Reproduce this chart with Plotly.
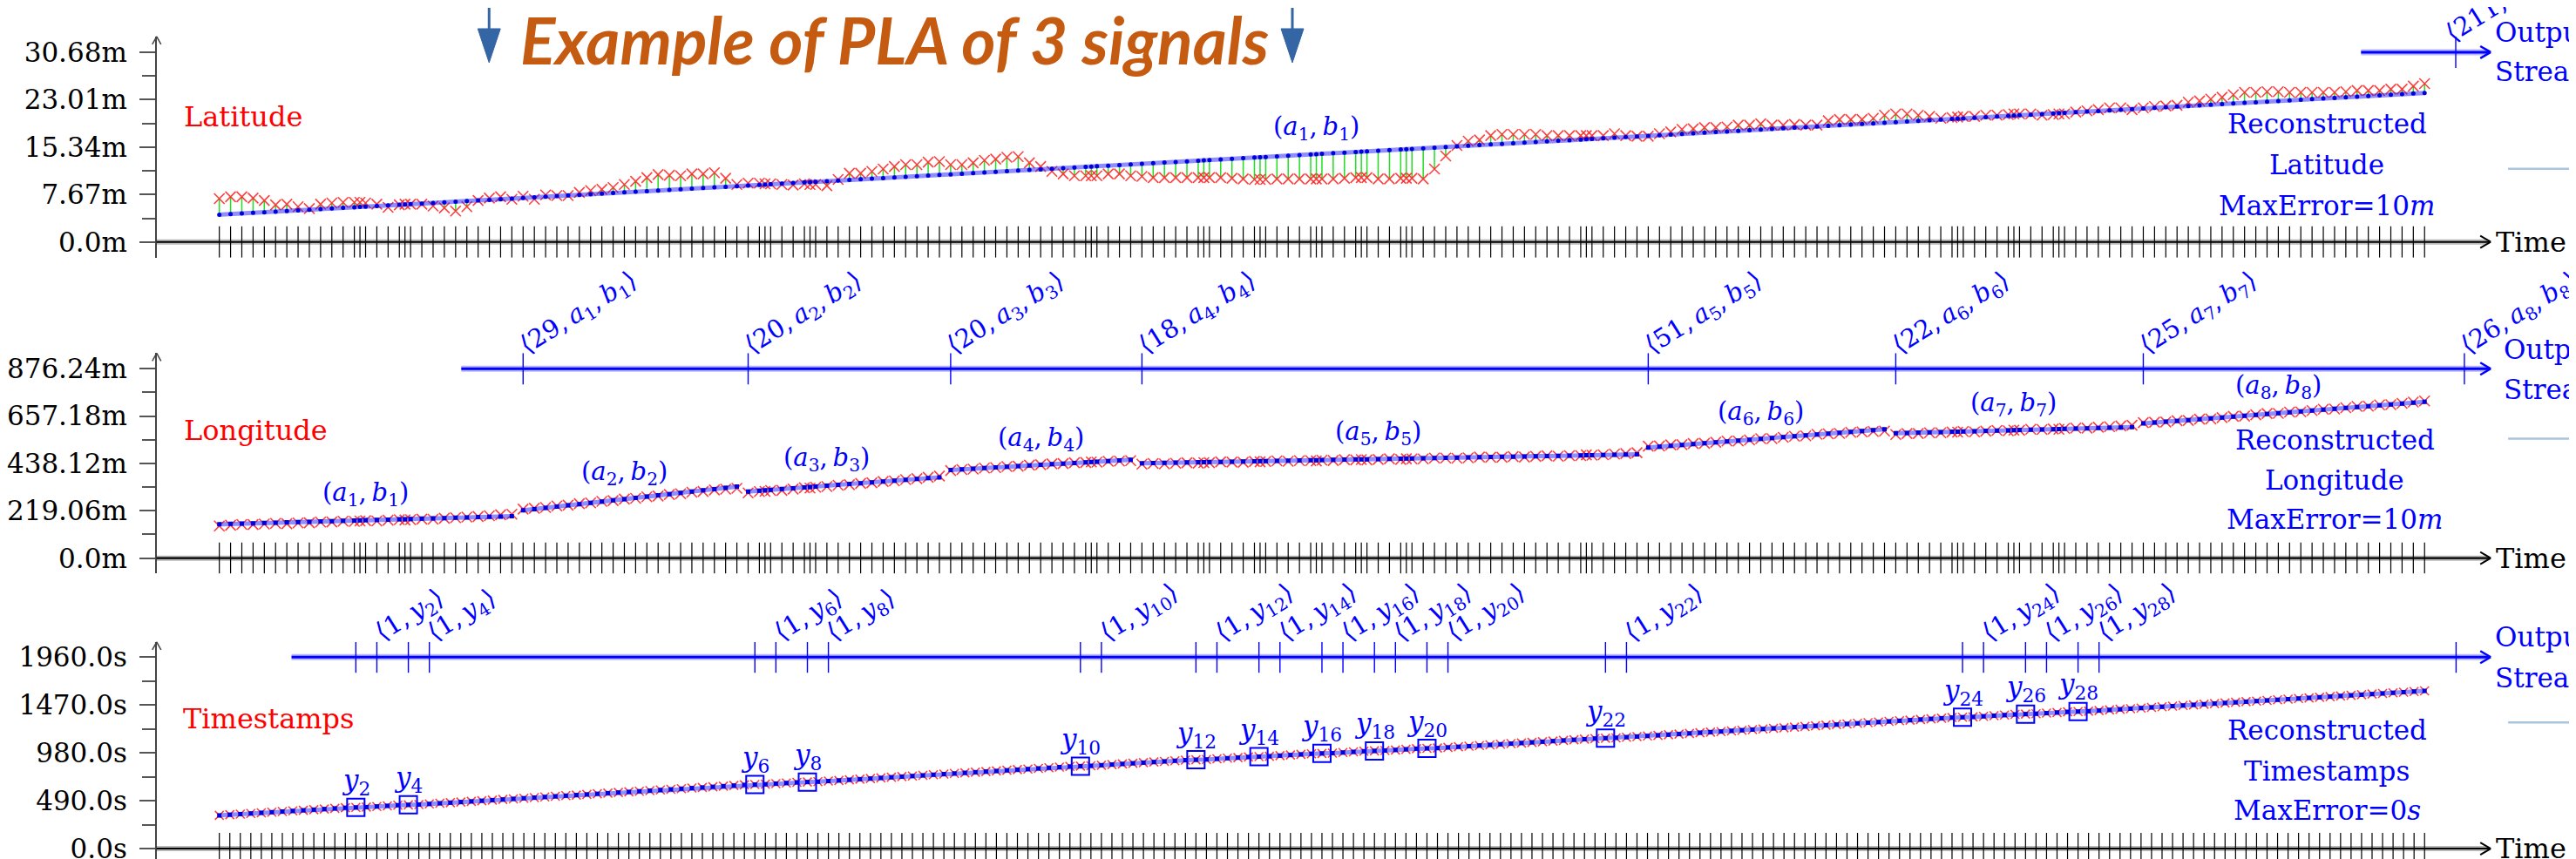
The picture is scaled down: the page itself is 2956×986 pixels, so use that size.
import plotly.graph_objects as go

W, H = 2956, 986
SERIF = "DejaVu Serif"
THIN = "\u2009"

# ------------------------------------------------------------------ data
timestamps = [
    340, 346.5, 353, 359.5, 366, 372.5, 379, 385.5, 392, 398.5,
    405, 411.5, 418, 421.25, 424.5, 431, 437.5, 444, 447.25, 450.5,
    457, 463.5, 470, 476.5, 483, 489.5, 496, 502.5, 509, 515.5,
    522, 528.5, 535, 541.5, 548, 554.5, 561, 567.5, 574, 580.5,
    587, 593.5, 600, 606.5, 613, 619.5, 626, 632.5, 639, 645.5,
    652, 655.25, 658.5, 665, 671.5, 678, 681.25, 684.5, 691, 697.5,
    704, 710.5, 717, 723.5, 730, 736.5, 743, 749.5, 756, 762.5,
    769, 775.5, 782, 788.5, 795, 801.5, 808, 814.5, 821, 827.5,
    834, 840.5, 843.75, 847, 853.5, 860, 866.5, 873, 879.5, 886,
    892.5, 899, 905.5, 908.75, 912, 918.5, 925, 931.5, 938, 941.25,
    944.5, 951, 957.5, 964, 970.5, 973.75, 977, 983.5, 990, 996.5,
    999.75, 1003, 1009.5, 1016, 1022.5, 1025.75, 1029, 1035.5, 1042, 1048.5,
    1055, 1061.5, 1068, 1074.5, 1081, 1087.5, 1094, 1100.5, 1107, 1113.5,
    1120, 1126.5, 1129.75, 1133, 1139.5, 1146, 1152.5, 1159, 1165.5, 1172,
    1178.5, 1185, 1191.5, 1198, 1204.5, 1211, 1217.5, 1224, 1230.5, 1237,
    1243.5, 1250, 1256.5, 1263, 1269.5, 1276, 1282.5, 1289, 1295.5, 1302,
    1308.5, 1315, 1321.5, 1328, 1334.5, 1341, 1344.25, 1347.5, 1354, 1360.5,
    1367, 1373.5, 1376.75, 1380, 1386.5, 1393, 1399.5, 1402.75, 1406, 1412.5,
    1419, 1425.5, 1432, 1438.5, 1445, 1451.5, 1458, 1464.5, 1471, 1477.5,
    1484, 1490.5, 1497, 1503.5, 1510, 1516.5, 1523, 1529.5, 1536, 1542.5,
    1549, 1555.5, 1562, 1568.5, 1575, 1581.5, 1588, 1594.5, 1601, 1607.5,
    1614,
]

lat_raw = [
    7.0, 7.3, 7.3, 7.1, 6.7, 6.0, 6.1, 5.7, 5.4, 6.1,
    6.3, 6.4, 6.4, 6.4, 6.3, 6.1, 5.6, 6.0, 6.1, 6.1,
    6.1, 5.8, 5.5, 5.0, 5.7, 6.7, 7.1, 7.3, 6.9, 7.4,
    6.9, 7.6, 7.5, 7.5, 8.0, 8.3, 8.5, 8.8, 9.3, 9.8,
    10.4, 10.9, 10.8, 10.7, 11.0, 11.0, 11.2, 10.3, 9.3, 9.5,
    9.5, 9.4, 9.4, 9.3, 9.2, 9.4, 9.3, 9.3, 9.1, 10.1,
    11.1, 11.1, 11.4, 11.8, 12.2, 12.5, 12.5, 12.9, 13.0, 12.5,
    12.5, 12.8, 13.2, 13.4, 13.7, 13.8, 12.8, 12.2, 11.4, 11.0,
    10.7, 10.7, 10.7, 10.7, 11.0, 11.0, 10.7, 10.6, 10.4, 10.4,
    10.4, 10.4, 10.4, 10.4, 10.4, 10.4, 10.3, 10.2, 10.1, 10.1,
    10.1, 10.2, 10.2, 10.2, 10.2, 10.2, 10.2, 10.2, 10.3, 10.4,
    10.4, 10.4, 10.2, 10.2, 10.3, 10.3, 10.3, 10.2, 11.8, 13.9,
    15.6, 16.3, 16.5, 17.2, 17.4, 17.4, 17.4, 17.4, 17.2, 17.2,
    17.2, 17.2, 17.2, 17.2, 17.2, 17.5, 17.2, 17.1, 17.1, 17.5,
    17.8, 18.2, 18.3, 18.5, 18.5, 18.6, 18.9, 18.9, 19.1, 18.9,
    18.9, 19.0, 18.9, 18.9, 19.6, 19.8, 19.8, 19.8, 20.0, 20.5,
    20.7, 20.7, 20.5, 20.3, 20.0, 20.1, 20.2, 20.3, 20.3, 20.5,
    20.5, 20.6, 20.7, 20.7, 20.7, 20.5, 20.6, 20.7, 20.7, 21.0,
    21.2, 21.4, 21.7, 21.7, 21.4, 21.7, 21.9, 22.0, 22.1, 22.6,
    22.8, 23.1, 23.4, 23.8, 24.2, 24.2, 24.3, 24.3, 24.2, 24.2,
    24.2, 24.2, 24.2, 24.3, 24.5, 24.5, 24.5, 24.7, 24.7, 25.2,
    25.6,
]

lat_rec = [
    4.40, 4.50, 4.60, 4.70, 4.80, 4.90, 5.00, 5.10, 5.20, 5.30,
    5.41, 5.51, 5.61, 5.66, 5.71, 5.81, 5.91, 6.01, 6.06, 6.11,
    6.21, 6.31, 6.41, 6.51, 6.61, 6.71, 6.81, 6.91, 7.01, 7.11,
    7.21, 7.31, 7.42, 7.52, 7.62, 7.72, 7.82, 7.92, 8.02, 8.12,
    8.22, 8.32, 8.42, 8.52, 8.62, 8.72, 8.82, 8.92, 9.02, 9.12,
    9.22, 9.27, 9.32, 9.43, 9.53, 9.63, 9.68, 9.73, 9.83, 9.93,
    10.03, 10.13, 10.23, 10.33, 10.43, 10.53, 10.63, 10.73, 10.83, 10.93,
    11.03, 11.13, 11.23, 11.33, 11.44, 11.54, 11.64, 11.74, 11.84, 11.94,
    12.04, 12.14, 12.19, 12.24, 12.34, 12.44, 12.54, 12.64, 12.74, 12.84,
    12.94, 13.04, 13.14, 13.19, 13.24, 13.34, 13.45, 13.55, 13.65, 13.70,
    13.75, 13.85, 13.95, 14.05, 14.15, 14.20, 14.25, 14.35, 14.45, 14.55,
    14.60, 14.65, 14.75, 14.85, 14.95, 15.00, 15.05, 15.15, 15.25, 15.35,
    15.46, 15.56, 15.66, 15.76, 15.86, 15.96, 16.06, 16.16, 16.26, 16.36,
    16.46, 16.56, 16.61, 16.66, 16.76, 16.86, 16.96, 17.06, 17.16, 17.26,
    17.36, 17.47, 17.57, 17.67, 17.77, 17.87, 17.97, 18.07, 18.17, 18.27,
    18.37, 18.47, 18.57, 18.67, 18.77, 18.87, 18.97, 19.07, 19.17, 19.27,
    19.37, 19.48, 19.58, 19.68, 19.78, 19.88, 19.93, 19.98, 20.08, 20.18,
    20.28, 20.38, 20.43, 20.48, 20.58, 20.68, 20.78, 20.83, 20.88, 20.98,
    21.08, 21.18, 21.28, 21.38, 21.49, 21.59, 21.69, 21.79, 21.89, 21.99,
    22.09, 22.19, 22.29, 22.39, 22.49, 22.59, 22.69, 22.79, 22.89, 22.99,
    23.09, 23.19, 23.29, 23.39, 23.50, 23.60, 23.70, 23.80, 23.90, 24.00,
    24.10,
]

lon_raw = [
    149.0, 152.4, 155.8, 155.3, 157.7, 161.1, 159.5, 163.0, 163.4, 166.8,
    167.2, 170.7, 170.1, 171.8, 173.5, 171.9, 175.3, 177.8, 176.5, 178.2,
    180.6, 180.0, 184.5, 186.9, 190.3, 192.7, 196.2, 200.6, 203.0, 227.0,
    230.8, 234.6, 241.4, 245.2, 251.9, 255.7, 262.5, 266.3, 273.1, 276.9,
    283.7, 287.5, 294.3, 298.1, 304.9, 308.6, 315.4, 319.2, 323.0, 302.0,
    307.9, 308.8, 312.8, 313.6, 319.5, 325.4, 324.3, 328.3, 331.2, 337.0,
    339.9, 345.8, 348.7, 354.6, 357.4, 363.3, 368.2, 374.1, 380.0, 405.0,
    409.9, 411.9, 416.8, 418.8, 423.7, 425.6, 430.6, 432.5, 436.5, 437.4,
    441.3, 442.3, 444.8, 444.2, 448.2, 449.1, 451.0, 435.0, 437.9, 435.9,
    438.8, 441.7, 439.7, 442.1, 441.6, 445.5, 444.4, 443.4, 447.3, 445.8,
    447.2, 450.2, 448.1, 451.0, 451.0, 449.4, 452.9, 451.8, 455.7, 454.7,
    456.1, 454.6, 456.5, 459.5, 456.4, 459.8, 459.3, 459.2, 463.2, 463.1,
    462.0, 464.0, 467.9, 466.8, 466.8, 469.7, 467.6, 470.6, 473.5, 471.4,
    474.4, 474.3, 477.8, 476.2, 478.2, 481.1, 484.0, 488.0, 518.0, 519.0,
    524.0, 525.0, 530.0, 531.0, 536.0, 542.0, 542.0, 547.0, 553.0, 553.0,
    559.0, 564.0, 566.0, 573.0, 575.0, 577.0, 582.0, 584.0, 586.0, 588.0,
    572.0, 576.3, 576.7, 580.0, 580.3, 583.7, 583.3, 586.0, 584.3, 587.7,
    591.0, 589.3, 592.0, 591.7, 596.0, 595.3, 597.7, 596.3, 600.0, 602.3,
    601.7, 606.0, 608.3, 611.7, 615.0, 627.0, 629.0, 630.0, 636.0, 637.0,
    643.0, 644.0, 650.0, 656.0, 657.0, 663.0, 669.0, 670.0, 676.0, 677.0,
    683.0, 689.0, 690.0, 696.0, 702.0, 703.0, 709.0, 710.0, 716.0, 722.0,
    727.0,
]

lon_rec = [
    157.0, 158.4, 159.8, 161.3, 162.7, 164.1, 165.5, 167.0, 168.4, 169.8,
    171.2, 172.7, 174.1, 174.8, 175.5, 176.9, 178.3, 179.8, 180.5, 181.2,
    182.6, 184.0, 185.5, 186.9, 188.3, 189.7, 191.2, 192.6, 194.0, 221.0,
    226.8, 232.6, 238.4, 244.2, 249.9, 255.7, 261.5, 267.3, 273.1, 278.9,
    284.7, 290.5, 296.3, 302.1, 307.9, 313.6, 319.4, 325.2, 331.0, 308.0,
    311.9, 313.8, 315.8, 319.6, 323.5, 327.4, 329.3, 331.3, 335.2, 339.0,
    342.9, 346.8, 350.7, 354.6, 358.4, 362.3, 366.2, 370.1, 374.0, 408.0,
    410.9, 413.9, 416.8, 419.8, 422.7, 425.6, 428.6, 431.5, 434.5, 437.4,
    440.3, 443.3, 444.8, 446.2, 449.2, 452.1, 455.0, 439.0, 439.9, 440.9,
    441.8, 442.7, 443.7, 444.1, 444.6, 445.5, 446.4, 447.4, 448.3, 448.8,
    449.2, 450.2, 451.1, 452.0, 453.0, 453.4, 453.9, 454.8, 455.7, 456.7,
    457.1, 457.6, 458.5, 459.5, 460.4, 460.8, 461.3, 462.2, 463.2, 464.1,
    465.0, 466.0, 466.9, 467.8, 468.8, 469.7, 470.6, 471.6, 472.5, 473.4,
    474.4, 475.3, 475.8, 476.2, 477.2, 478.1, 479.0, 480.0, 512.0, 516.0,
    520.0, 524.0, 528.0, 532.0, 536.0, 540.0, 544.0, 548.0, 552.0, 556.0,
    560.0, 564.0, 568.0, 572.0, 576.0, 580.0, 584.0, 588.0, 592.0, 596.0,
    578.0, 579.3, 580.7, 582.0, 583.3, 584.7, 585.3, 586.0, 587.3, 588.7,
    590.0, 591.3, 592.0, 592.7, 594.0, 595.3, 596.7, 597.3, 598.0, 599.3,
    600.7, 602.0, 603.3, 604.7, 606.0, 623.0, 627.0, 631.0, 635.0, 639.0,
    643.0, 647.0, 651.0, 655.0, 659.0, 663.0, 667.0, 671.0, 675.0, 679.0,
    683.0, 687.0, 691.0, 695.0, 699.0, 703.0, 707.0, 711.0, 715.0, 719.0,
    723.0,
]

lat_seg_counts = [211]
lon_seg_counts = [29, 20, 20, 18, 51, 22, 25, 26]
irregular_idx = [13, 18, 51, 56, 82, 93, 99, 105, 110, 115, 132, 166, 172, 177]
irregular_lbl = [2, 4, 6, 8, 10, 12, 14, 16, 18, 20, 22, 24, 26, 28]

lat_tickvals = [0.0, 7.67, 15.34, 23.01, 30.68]
lat_ticktext = ["0.0m", "7.67m", "15.34m", "23.01m", "30.68m"]
lon_tickvals = [0.0, 219.06, 438.12, 657.18, 876.24]
lon_ticktext = ["0.0m", "219.06m", "438.12m", "657.18m", "876.24m"]
ts_tickvals = [0.0, 490.0, 980.0, 1470.0, 1960.0]
ts_ticktext = ["0.0s", "490.0s", "980.0s", "1470.0s", "1960.0s"]

stream_end_lat = 1632.0
stream_end_lon = 1637.0
stream_end_ts = 213.0

# ------------------------------------------------------------------ layout geometry (pixels)
AX_L, AX_R = 168, 2848
DAT_L, DAT_R = 240, 2774
PANELS = [
    dict(zero=269.0, top=51.0, dom=(33.0, 287.0)),
    dict(zero=632.3, top=414.7, dom=(396.7, 650.0)),
    dict(zero=966.0, top=746.0, dom=(728.7, 984.0)),
]
STREAM_START = [2701, 518, 323]
TICK_HALF = 18
ROT = -32


def px(x):
    return x / W


def py(y):
    return 1 - y / H


shapes, annotations = [], []


def line_px(x0, y0, x1, y1, color, width, layer="above"):
    shapes.append(dict(type="line", xref="paper", yref="paper",
                       x0=px(x0), y0=py(y0), x1=px(x1), y1=py(y1),
                       line=dict(color=color, width=width), layer=layer))


def chevron_right(xt, yt, color, width, size=12, spread=7):
    line_px(xt - size, yt - spread, xt, yt, color, width)
    line_px(xt - size, yt + spread, xt, yt, color, width)


def text_px(x, y, text, size, color, xanchor="center", **kw):
    annotations.append(dict(xref="paper", yref="paper", x=px(x), y=py(y), text=text,
                            showarrow=False, xanchor=xanchor, yanchor="middle",
                            font=dict(family=SERIF, size=size, color=color), **kw))


def vlines(xs, y0s, y1s):
    X, Y = [], []
    for x, a, b in zip(xs, y0s, y1s):
        X += [x, x, None]
        Y += [a, b, None]
    return X, Y


def seg_split(xs, ys, counts):
    X, Y, s = [], [], 0
    for n in counts:
        X += list(xs[s:s + n]) + [None]
        Y += list(ys[s:s + n]) + [None]
        s += n
    return X, Y


def xrange_for(v0, v1):
    s = (v1 - v0) / (DAT_R - DAT_L)
    return [v0 - (DAT_L - AX_L) * s, v1 + (AX_R - DAT_R) * s]


n_pts = len(timestamps)
index = list(range(n_pts))

specs = [
    dict(xs=timestamps, raw=lat_raw, rec=lat_rec, counts=lat_seg_counts,
         tv=lat_tickvals, tt=lat_ticktext, err=True,
         xr=xrange_for(timestamps[0], timestamps[-1])),
    dict(xs=timestamps, raw=lon_raw, rec=lon_rec, counts=lon_seg_counts,
         tv=lon_tickvals, tt=lon_ticktext, err=True,
         xr=xrange_for(timestamps[0], timestamps[-1])),
    dict(xs=index, raw=timestamps, rec=timestamps, counts=[n_pts],
         tv=ts_tickvals, tt=ts_ticktext, err=False,
         xr=xrange_for(0, n_pts - 1)),
]

ROT_FONT = dict(family=SERIF, size=29, color="blue")
LBL_FONT = dict(family=SERIF, size=29, color="blue")


def ab(j):
    return f"<i>a</i><sub>{j}</sub>,{THIN}<i>b</i><sub>{j}</sub>"


fig = go.Figure()
layout_axes = {}

for p, (sp, geo) in enumerate(zip(specs, PANELS)):
    xa = "x" if p == 0 else f"x{p + 1}"
    ya = "y" if p == 0 else f"y{p + 1}"
    top_val = sp["tv"][-1]
    k = (geo["zero"] - geo["top"]) / top_val
    yr = [(geo["zero"] - geo["dom"][1]) / k, (geo["zero"] - geo["dom"][0]) / k]
    minor_vals = [(a + b) / 2 for a, b in zip(sp["tv"][:-1], sp["tv"][1:])]
    layout_axes["xaxis" + ("" if p == 0 else str(p + 1))] = dict(
        domain=[px(AX_L), px(AX_R)], range=sp["xr"], visible=False, anchor=ya)
    layout_axes["yaxis" + ("" if p == 0 else str(p + 1))] = dict(
        domain=[py(geo["dom"][1]), py(geo["dom"][0])], range=yr, anchor=xa,
        showline=True, linecolor="#444", linewidth=1.5, showgrid=False, zeroline=False,
        ticks="outside", ticklen=18, tickwidth=1.5, tickcolor="#555",
        tickmode="array", tickvals=sp["tv"], ticktext=sp["tt"], ticklabelstandoff=8,
        tickfont=dict(family=SERIF, size=31, color="black"),
        minor=dict(tickmode="array", tickvals=minor_vals, ticks="outside",
                   ticklen=15, tickwidth=1.5, tickcolor="#555"))

    h = TICK_HALF / k
    xs = sp["xs"]
    X, Y = vlines(xs, [-h] * n_pts, [h] * n_pts)
    fig.add_trace(go.Scatter(x=X, y=Y, mode="lines", line=dict(color="black", width=1.2),
                             xaxis=xa, yaxis=ya, hoverinfo="skip", showlegend=False))
    if sp["err"]:
        X, Y = vlines(xs, sp["raw"], sp["rec"])
        fig.add_trace(go.Scatter(x=X, y=Y, mode="lines", line=dict(color="#22dd22", width=1.5),
                                 xaxis=xa, yaxis=ya, hoverinfo="skip", showlegend=False))
    fig.add_trace(go.Scatter(x=xs, y=sp["raw"], mode="markers",
                             marker=dict(symbol="x-thin-open", size=12 if p < 2 else 10,
                                         color="rgba(255,30,30,0.85)",
                                         line=dict(width=1.6, color="rgba(255,30,30,0.85)")),
                             xaxis=xa, yaxis=ya, hoverinfo="skip", showlegend=False))
    X, Y = seg_split(xs, sp["rec"], sp["counts"])
    fig.add_trace(go.Scatter(x=X, y=Y, mode="lines", connectgaps=False,
                             line=dict(color="rgba(30,30,255,0.5)", width=5),
                             xaxis=xa, yaxis=ya, hoverinfo="skip", showlegend=False))
    fig.add_trace(go.Scatter(x=xs, y=sp["rec"], mode="markers",
                             marker=dict(symbol="circle" if p == 0 else "square", size=5,
                                         color="rgb(0,0,220)"),
                             xaxis=xa, yaxis=ya, hoverinfo="skip", showlegend=False))

    z = geo["zero"]
    line_px(AX_L, z, AX_R - 2, z, "rgba(0,0,0,0.28)", 6)
    line_px(AX_L, z, AX_R, z, "black", 2.2)
    chevron_right(AX_R + 2, z, "black", 2)
    text_px(2854, z, "Time", 32, "black", xanchor="left")
    t0 = geo["dom"][0]
    line_px(AX_L - 5, t0 + 9, AX_L, t0, "#444", 1.5)
    line_px(AX_L + 5, t0 + 9, AX_L, t0, "#444", 1.5)

    tp = geo["top"]
    line_px(STREAM_START[p], tp, AX_R - 2, tp, "rgba(0,0,255,0.28)", 7)
    line_px(STREAM_START[p], tp, AX_R, tp, "blue", 3)
    chevron_right(AX_R + 2, tp, "blue", 2.5)
    hs = TICK_HALF / k

    if p < 2:
        ends, cum = [], 0
        for n in sp["counts"]:
            cum += n
            ends.append(timestamps[cum] if cum < n_pts else (stream_end_lat if p == 0 else stream_end_lon))
        X, Y = vlines(ends, [top_val - hs] * len(ends), [top_val + hs] * len(ends))
        fig.add_trace(go.Scatter(x=X, y=Y, mode="lines", line=dict(color="blue", width=1.4),
                                 xaxis=xa, yaxis=ya, hoverinfo="skip", showlegend=False))
        for j, (x_end, n) in enumerate(zip(ends, sp["counts"])):
            lab = f"\u27e8{n},{THIN}{ab(j + 1)}\u27e9"
            annotations.append(dict(xref=xa, yref=ya, x=x_end, y=top_val, text=lab,
                                    showarrow=False, textangle=ROT, xanchor="center",
                                    yanchor="middle", xshift=64, yshift=63, font=ROT_FONT))
        s0 = 0
        for j, n in enumerate(sp["counts"]):
            mid = s0 + (n - 1) // 2
            annotations.append(dict(xref=xa, yref=ya, x=xs[mid], y=sp["rec"][mid],
                                    text=f"({ab(j + 1)})",
                                    showarrow=False, yshift=30, xanchor="center", yanchor="middle",
                                    font=LBL_FONT))
            s0 += n
    else:
        tick_x = []
        for kk in irregular_idx:
            tick_x += [kk, kk + 2]
        tick_x.append(stream_end_ts)
        X, Y = vlines(tick_x, [top_val - hs] * len(tick_x), [top_val + hs] * len(tick_x))
        fig.add_trace(go.Scatter(x=X, y=Y, mode="lines", line=dict(color="blue", width=1.4),
                                 xaxis=xa, yaxis=ya, hoverinfo="skip", showlegend=False))
        for kk, lb in zip(irregular_idx, irregular_lbl):
            two = lb >= 10
            annotations.append(dict(xref=xa, yref=ya, x=kk + 2, y=top_val,
                                    text=f"\u27e81,{THIN}<i>y</i><sub>{lb}</sub>\u27e9",
                                    showarrow=False, textangle=ROT, xanchor="center",
                                    yanchor="middle", xshift=44 if two else 38,
                                    yshift=50 if two else 47, font=ROT_FONT))
            annotations.append(dict(xref=xa, yref=ya, x=kk, y=timestamps[kk],
                                    text=f"<i>y</i><sub>{lb}</sub>", showarrow=False,
                                    yshift=29, xanchor="center", yanchor="middle",
                                    font=dict(family=SERIF, size=31, color="blue")))
        fig.add_trace(go.Scatter(x=irregular_idx, y=[timestamps[i] for i in irregular_idx],
                                 mode="markers",
                                 marker=dict(symbol="square-open", size=20, color="blue",
                                             line=dict(width=2, color="blue")),
                                 xaxis=xa, yaxis=ya, hoverinfo="skip", showlegend=False))

text_px(197, 125, "Latitude", 32, "red", xanchor="left")
text_px(197, 485, "Longitude", 32, "red", xanchor="left")
text_px(196, 817, "Timestamps", 32, "red", xanchor="left")

for cx, ys, name, err in [(2662, (133, 180, 227), "Latitude", "MaxError=10<i>m</i>"),
                          (2671, (497, 543, 588), "Longitude", "MaxError=10<i>m</i>"),
                          (2662, (830, 877, 922), "Timestamps", "MaxError=0<i>s</i>")]:
    text_px(cx, ys[0], "Reconstructed", 31, "blue")
    text_px(cx, ys[1], name, 31, "blue")
    text_px(cx, ys[2], err, 31, "blue")

for x0, (y1, y2) in [(2853, (28, 73)), (2863, (392, 438)), (2853, (723, 770))]:
    text_px(x0, y1, "Output", 31, "blue", xanchor="left")
    text_px(x0, y2, "Stream", 31, "blue", xanchor="left")

for yy in (185, 495, 821):
    line_px(2870, yy, 2956, yy, "#aac4dd", 2.5)

annotations.append(dict(xref="paper", yref="paper", x=px(1016), y=py(36), showarrow=False,
                        text="Example of PLA of 3 signals", xanchor="center", yanchor="middle",
                        font=dict(family="Lato", size=75, color="#C55A11",
                                  weight="bold", style="italic")))
for ax in (550, 1473):
    line_px(ax, 0, ax, 26, "#3465A4", 3)
    shapes.append(dict(type="path", xref="paper", yref="paper",
                       path=f"M {px(ax - 13)} {py(24)} L {px(ax + 13)} {py(24)} L {px(ax)} {py(63)} Z",
                       fillcolor="#3465A4", line=dict(color="#3465A4", width=1)))

fig.update_layout(width=W, height=H, margin=dict(l=0, r=0, t=0, b=0),
                  paper_bgcolor="white", plot_bgcolor="white",
                  shapes=shapes, annotations=annotations, showlegend=False, **layout_axes)

fig.write_html("out.html")
